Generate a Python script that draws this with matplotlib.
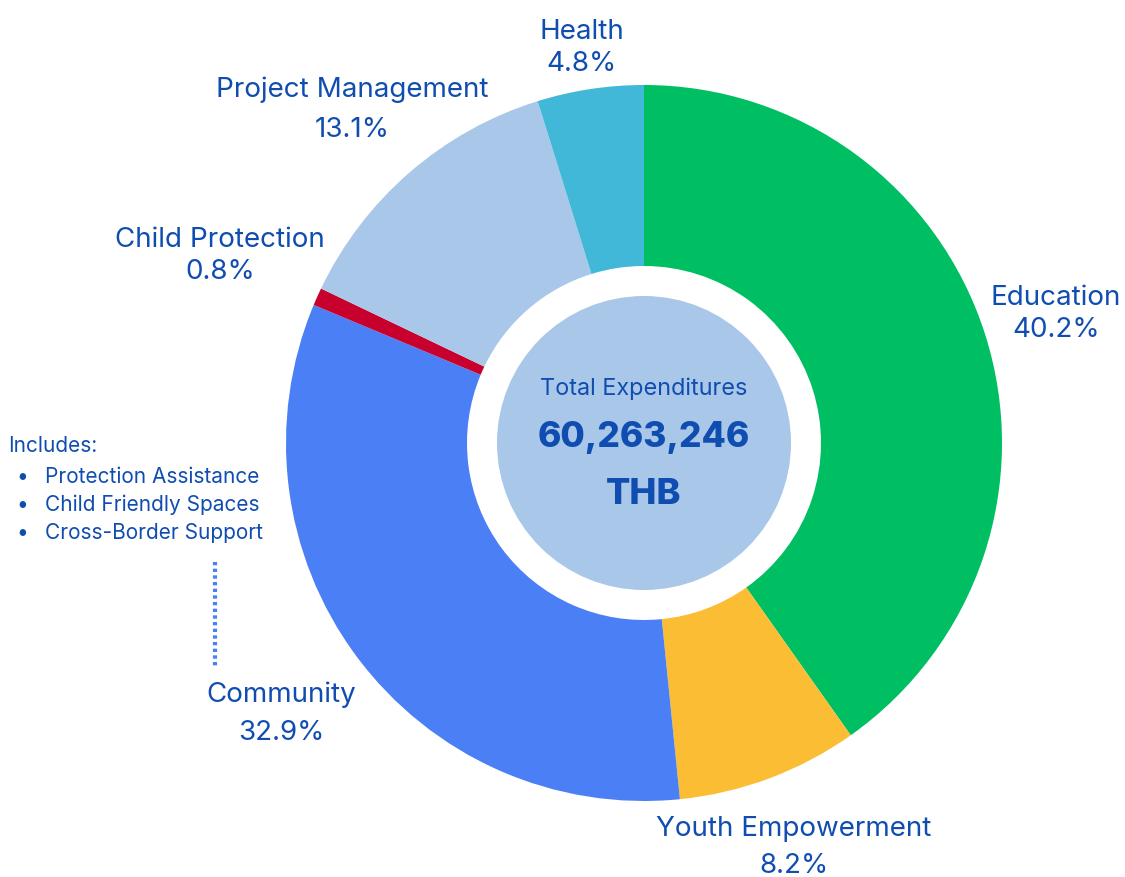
import matplotlib.pyplot as plt
from matplotlib.patches import Circle

plt.rcParams['font.family'] = ['Inter', 'DejaVu Sans']

categories = ['Education', 'Youth Empowerment', 'Community', 'Child Protection',
              'Project Management', 'Health']
shares = [40.2, 8.2, 32.9, 0.8, 13.1, 4.8]
colors = ['#00BF63', '#FBBD33', '#4B7FF5', '#C8002D', '#A9C7E8', '#42B8D8']
community_items = ['Protection Assistance', 'Child Friendly Spaces', 'Cross-Border Support']
total_text = '60,263,246'
currency = 'THB'

TXT = '#104DB0'
W, H = 1125, 877
cx, cy = 644, H - 443
R = 358

fig = plt.figure(figsize=(W / 100, H / 100), dpi=100)
ax = fig.add_axes([0, 0, 1, 1])
ax.set_xlim(0, W)
ax.set_ylim(0, H)
ax.set_aspect('equal')
ax.axis('off')

ax.pie(shares, colors=colors, startangle=90, counterclock=False,
       center=(cx, cy), radius=R, wedgeprops=dict(width=181, linewidth=0))
ax.set_xlim(0, W)
ax.set_ylim(0, H)

ax.add_patch(Circle((cx, cy), 147, color='#A9C7E8', lw=0, zorder=3))

# label positions in pixel coords (top-left origin)
label_pos = {
    'Education': (1056, 298),
    'Youth Empowerment': (794, 829),
    'Community': (281, 695),
    'Child Protection': (220, 240),
    'Project Management': (352, 90),
    'Health': (582, 32),
}
gap = {'Community': 38, 'Youth Empowerment': 37, 'Project Management': 40}
for name, val in zip(categories, shares):
    x, y = label_pos[name]
    ax.text(x, H - y, name, ha='center', va='center', fontsize=20, color=TXT)
    ax.text(x, H - y - gap.get(name, 32), f'{val}%', ha='center', va='center',
            fontsize=20, color=TXT)

ax.text(cx, H - 389, 'Total Expenditures', ha='center', va='center',
        fontsize=16.9, color=TXT, zorder=4)
ax.text(cx, H - 437, total_text, ha='center', va='center', fontsize=25.5,
        fontweight='heavy', color=TXT, zorder=4)
ax.text(cx, H - 494, currency, ha='center', va='center', fontsize=26,
        fontweight='heavy', color=TXT, zorder=4)

ax.text(8, H - 446, 'Includes:', ha='left', va='center', fontsize=15, color=TXT)
for i, item in enumerate(community_items):
    yy = H - (477 + 28 * i)
    ax.text(22, yy, '\u2022', ha='center', va='center', fontsize=15, color=TXT)
    ax.text(45, yy, item, ha='left', va='center', fontsize=15, color=TXT)

ax.plot([215, 215], [H - 562, H - 667], color='#4B7FF5', lw=3,
        linestyle=(0, (0.8, 0.8)))

fig.savefig('out.png', dpi=100)
